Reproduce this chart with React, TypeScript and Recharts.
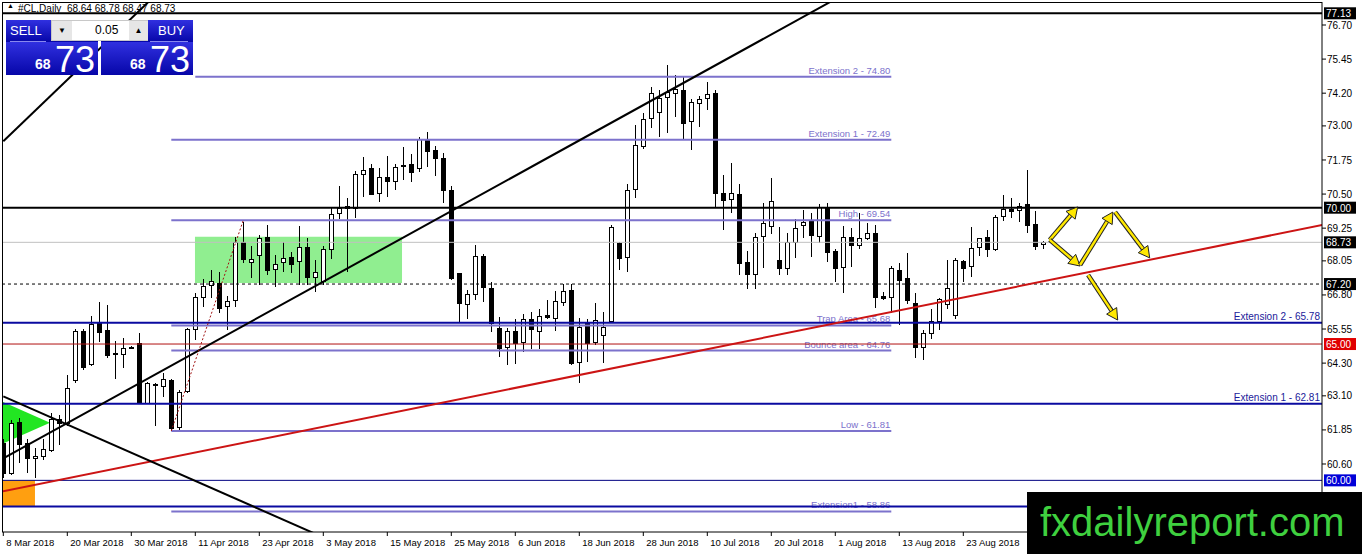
import React from "react";
import { ComposedChart, Bar, XAxis, YAxis, ReferenceLine, ReferenceArea } from "recharts";

// CL daily candles, one per trading day starting 8 Mar 2018 (index = bar number)
const opens = [
  61.37, 60.27, 62.14, 61.37, 60.82, 60.9, 61.12, 62.25, 62.11, 63.68, 65.48, 64.27, 65.77, 65.52, 64.67, 64.64,
  64.86, 65.04, 62.84, 63.55, 63.46, 63.68, 61.96, 63.28, 65.55, 66.72, 67.17, 67.23, 66.4, 66.62, 68.73, 67.99,
  68.27, 68.92, 67.74, 67.99, 68.2, 68.04, 68.56, 67.47, 67.29, 68.48, 69.8, 70.0, 69.98, 71.24, 71.44, 70.53,
  71.12, 70.99, 71.55, 71.6, 71.45, 72.48, 72.12, 71.81, 70.65, 67.59, 66.47, 66.84, 68.23, 67.04, 65.58, 64.9,
  65.47, 65.05, 65.91, 65.49, 66.06, 65.98, 66.55, 66.98, 64.35, 65.82, 65.09, 65.33, 65.86, 68.72, 68.18, 70.67,
  72.24, 73.32, 73.5, 74.05, 74.2, 74.32, 73.18, 73.83, 74.01, 74.2, 70.55, 70.34, 70.5, 68.0, 67.59, 68.96,
  69.33, 68.08, 67.78, 68.72, 69.37, 69.55, 68.96, 69.98, 68.42, 67.84, 68.94, 68.61, 68.87, 69.08, 66.76, 66.71,
  67.72, 67.41, 66.49, 64.9, 65.42, 65.82, 66.47, 66.07, 68.06, 67.84, 68.55, 68.92, 68.51, 69.67, 69.95, 69.92,
  70.14, 69.4, 68.64,
];
const highs = [
  61.5, 62.2, 62.3, 61.5, 61.19, 61.52, 62.47, 62.4, 63.87, 65.55, 65.55, 66.03, 66.54, 66.43, 65.11, 65.22,
  64.92, 65.41, 63.6, 63.57, 63.94, 63.72, 63.3, 65.6, 66.87, 67.39, 67.72, 67.65, 66.75, 68.94, 69.49, 68.59,
  69.0, 69.37, 68.28, 68.73, 68.38, 69.33, 68.89, 68.08, 68.59, 70.0, 70.8, 70.34, 71.36, 71.87, 71.62, 71.45,
  71.9, 71.62, 72.24, 71.96, 72.6, 72.79, 72.26, 72.0, 70.8, 67.62, 66.98, 68.63, 68.3, 67.29, 66.0, 65.58,
  65.91, 66.1, 66.19, 66.28, 66.63, 66.96, 67.2, 67.2, 65.94, 65.9, 66.49, 66.18, 69.36, 68.76, 70.86, 73.03,
  73.47, 74.44, 74.32, 75.23, 74.87, 74.8, 74.0, 74.1, 74.62, 74.3, 71.2, 71.63, 70.87, 68.42, 69.06, 70.16,
  71.08, 69.3, 69.06, 69.58, 69.92, 69.8, 70.14, 70.18, 68.5, 69.33, 69.25, 69.82, 69.44, 69.37, 66.9, 67.85,
  67.98, 68.33, 66.86, 65.5, 66.27, 66.7, 68.08, 68.15, 68.1, 69.28, 68.9, 69.18, 69.75, 70.47, 70.35, 70.19,
  71.38, 69.89, 68.78,
];
const lows = [
  60.1, 60.2, 60.64, 60.27, 60.09, 60.75, 61.05, 61.3, 62.0, 63.57, 64.05, 64.2, 65.08, 64.49, 63.72, 64.12,
  64.82, 62.8, 62.8, 62.0, 63.06, 61.81, 61.85, 63.2, 65.15, 66.36, 66.69, 66.13, 65.52, 66.35, 67.96, 67.41,
  67.17, 67.53, 67.1, 67.65, 67.61, 67.17, 67.17, 66.92, 67.17, 68.11, 69.58, 67.65, 69.62, 70.38, 70.45, 70.22,
  70.4, 70.66, 71.02, 70.96, 71.3, 71.5, 71.15, 70.17, 67.35, 65.82, 65.91, 66.6, 66.54, 65.45, 64.54, 64.23,
  64.25, 64.72, 64.81, 64.81, 65.9, 65.49, 66.4, 64.23, 63.56, 64.35, 64.97, 64.32, 65.8, 67.72, 67.63, 70.37,
  72.15, 72.91, 72.58, 72.73, 73.31, 72.52, 72.12, 72.97, 73.57, 70.03, 69.18, 69.82, 67.53, 67.0, 67.0, 67.78,
  69.05, 67.53, 67.53, 68.14, 68.88, 68.2, 68.7, 68.02, 67.29, 66.88, 67.84, 68.5, 68.8, 66.31, 66.6, 66.13,
  65.7, 66.48, 64.48, 64.42, 65.2, 65.52, 66.3, 65.91, 67.29, 67.47, 68.24, 68.18, 68.4, 69.53, 69.61, 69.49,
  69.08, 68.45, 68.47,
];
const closes = [
  60.27, 62.11, 61.34, 60.82, 60.89, 61.15, 62.25, 62.11, 63.39, 65.48, 64.16, 65.74, 65.44, 64.6, 64.64, 64.86,
  64.88, 62.84, 63.57, 63.5, 63.72, 61.92, 63.24, 65.55, 66.72, 67.13, 67.32, 66.31, 66.59, 68.73, 68.11, 68.11,
  68.88, 67.72, 67.94, 68.14, 67.96, 68.55, 67.47, 67.65, 68.48, 69.76, 69.98, 70.06, 71.24, 71.38, 70.5, 71.12,
  70.96, 71.5, 71.57, 71.32, 72.51, 72.06, 71.81, 70.62, 67.41, 66.49, 66.84, 68.23, 67.08, 65.74, 64.84, 65.49,
  65.03, 65.91, 65.54, 66.03, 65.98, 66.59, 66.96, 64.29, 65.64, 65.05, 65.88, 65.64, 69.3, 68.18, 70.65, 72.3,
  73.24, 74.22, 74.01, 74.23, 74.34, 73.1, 73.87, 73.98, 74.17, 70.55, 70.31, 70.55, 67.96, 67.56, 68.94, 69.43,
  70.26, 67.78, 68.75, 69.25, 69.49, 69.0, 70.04, 68.35, 67.81, 68.94, 68.63, 68.88, 69.06, 66.74, 66.68, 67.78,
  67.37, 66.59, 64.88, 65.42, 65.86, 66.64, 67.04, 68.08, 67.81, 68.51, 68.88, 68.48, 69.67, 69.94, 69.86, 70.07,
  69.37, 68.6, 68.73,
];

// one date label every 8 bars
const dateLabels = [
  "8 Mar 2018", "20 Mar 2018", "30 Mar 2018", "11 Apr 2018", "23 Apr 2018", "3 May 2018", "15 May 2018", "25 May 2018",
  "6 Jun 2018", "18 Jun 2018", "28 Jun 2018", "10 Jul 2018", "20 Jul 2018", "1 Aug 2018", "13 Aug 2018", "23 Aug 2018",
];
const priceTicks = [76.7, 75.45, 74.2, 73.0, 71.75, 70.5, 69.25, 68.05, 66.8, 65.55, 64.3, 63.1, 61.85, 60.6, 59.35];

// horizontal levels marked on the price scale
const markerPrices = [77.13, 70.0, 67.2, 68.73, 65.0, 60.0];

// fibonacci tool levels
const fibNames = ["Extension 2", "Extension 1", "High", "Trap Area", "Bounce area", "Low", "Extension1"];
const fibPrices = [74.8, 72.49, 69.54, 65.68, 64.76, 61.81, 58.86];
const fibStart = [24, 21, 21, 21, 21, 21, 21];
const fibEnd = 111;

// blue extension levels (full width)
const levelNames = ["Extension 2 - 65.78", "Extension 1 - 62.81", ""];
const levelPrices = [65.78, 62.81, 59.04];

// trend lines [x1, y1, x2, y2] in bar index / price
const redTrend = [-1, 59.54, 170, 69.67];
const blackUp = [0, 60.81, 110, 78.62];
const blackDown = [0, 63.08, 40, 57.91];
const blackTopLeft = [0, 72.44, 20, 78.07];
const fibDiagonal = [21, 61.81, 30, 69.54];

// forecast arrows
const arrowPaths = [
  [130.8, 68.82, 134.3, 70.03],
  [130.8, 68.82, 134.6, 67.86],
  [134.6, 67.9, 138.7, 69.84],
  [138.97, 69.84, 143.3, 68.16],
  [135.6, 67.53, 139.3, 65.88],
];

const candles = opens.map((o, i) => ({ i, open: o, high: highs[i], low: lows[i], close: closes[i] }));

const FONT = "'Liberation Sans', Arial, sans-serif";
const FIB = "#7C72CC";
const BLUE = "#0A0AA0";
const X_DOMAIN = [-0.1625, 164.8375];
const Y_DOMAIN = [58.106, 77.544];

const Candle = (props: any) => {
  const { x, y, width, height, payload } = props;
  if (height == null || !payload) return null;
  const { open, high, low, close } = payload;
  const ppu = height / (high - low);
  const yO = y + (high - open) * ppu;
  const yC = y + (high - close) * ppu;
  const cx = Math.round(x + width / 2) + 0.5;
  const top = Math.round(Math.min(yO, yC)) + 0.5;
  const bh = Math.max(Math.round(Math.abs(yO - yC)), 0);
  const up = close >= open;
  return (
    <g shapeRendering="crispEdges">
      <line x1={cx} x2={cx} y1={y} y2={y + height} stroke="#000" strokeWidth={1} />
      <rect x={cx - 2} y={top} width={4} height={bh} fill={up ? "#fff" : "#000"} stroke="#000" strokeWidth={1} />
    </g>
  );
};

const boxColors: Record<string, string> = { "65.00": "#E00000", "60.00": "#0000D8" };
const lineStyles: Record<string, any> = {
  "77.13": { stroke: "#000", strokeWidth: 2 },
  "70.00": { stroke: "#000", strokeWidth: 2 },
  "67.20": { stroke: "#000", strokeWidth: 1, strokeDasharray: "3 3" },
  "68.73": { stroke: "#C0C0C0", strokeWidth: 1 },
  "65.00": { stroke: "#B01010", strokeWidth: 1 },
  "60.00": { stroke: "#000080", strokeWidth: 1 },
};

const MarkerLine = (props: any) => {
  const { x1, y1, x2, label } = props;
  const left = Math.min(x1, x2);
  const right = Math.max(x1, x2);
  const st = lineStyles[label];
  return (
    <g>
      <line x1={left} x2={right} y1={y1} y2={y1} {...st} />
      <rect x={right + 2} y={y1 - 6} width={32} height={12} fill={boxColors[label] || "#000"} />
      <text x={right + 4} y={y1 + 4} fontSize={10} fill="#fff" fontFamily={FONT}>
        {label}
      </text>
    </g>
  );
};

const LevelLine = (props: any) => {
  const { x1, y1, x2, text } = props;
  const left = Math.min(x1, x2);
  const right = Math.max(x1, x2);
  return (
    <g>
      <line x1={left} x2={right} y1={y1} y2={y1} stroke={BLUE} strokeWidth={2} />
      {text ? (
        <text x={right - 2} y={y1 - 3} fontSize={10} fill="#1A1A9A" textAnchor="end" fontFamily={FONT}>
          {text}
        </text>
      ) : null}
    </g>
  );
};

const FibLine = (props: any) => {
  const { x1, y1, x2, text } = props;
  const left = Math.min(x1, x2);
  const right = Math.max(x1, x2);
  return (
    <g>
      <line x1={left} x2={right} y1={y1} y2={y1} stroke={FIB} strokeWidth={2} />
      <text x={right - 1} y={y1 - 3} fontSize={9.5} fill={FIB} textAnchor="end" fontFamily={FONT}>
        {text}
      </text>
    </g>
  );
};

const Arrow = (props: any) => {
  const { x1, y1, x2, y2, clipPath } = props;
  const a = Math.atan2(y2 - y1, x2 - x1);
  const hl = 11;
  const hw = 6;
  const bx = x2 - hl * Math.cos(a);
  const by = y2 - hl * Math.sin(a);
  const nx = -Math.sin(a) * hw;
  const ny = Math.cos(a) * hw;
  const pts = `${x2},${y2} ${bx + nx},${by + ny} ${bx - nx},${by - ny}`;
  return (
    <g clipPath={clipPath}>
      <line x1={x1} y1={y1} x2={bx} y2={by} stroke="#222" strokeWidth={4.5} />
      <line x1={x1} y1={y1} x2={bx} y2={by} stroke="#FFE800" strokeWidth={2.5} />
      <polygon points={pts} fill="#FFE800" stroke="#222" strokeWidth={1} />
    </g>
  );
};

const Triangle = (props: any) => {
  const { x, y, width, height } = props;
  return (
    <polygon
      points={`${x},${y} ${x},${y + height} ${x + width},${y + height / 2}`}
      fill="#22E622"
    />
  );
};

const DateTick = (props: any) => {
  const { x, y, payload } = props;
  return (
    <text x={x + 3} y={y + 8} fontSize={9.5} fill="#000" fontFamily={FONT}>
      {dateLabels[Math.round(payload.value / 8)]}
    </text>
  );
};

const seg = (s: number[]) => [
  { x: s[0], y: s[1] },
  { x: s[2], y: s[3] },
];

function TradePanel() {
  const blue = "linear-gradient(#3030E0, #0606A8)";
  const big: React.CSSProperties = {
    position: "absolute",
    top: 42,
    width: 92,
    height: 33,
    background: blue,
    color: "#fff",
  };
  return (
    <>
      <div style={{ position: "absolute", left: 6, top: 20, width: 92, height: 22, background: blue }} />
      <div style={{ position: "absolute", left: 101, top: 20, width: 92, height: 22, background: blue }} />
      <div style={{ position: "absolute", left: 10, top: 23, color: "#fff", fontSize: 13, fontFamily: FONT }}>SELL</div>
      <div style={{ position: "absolute", left: 10, top: 41, width: 36, height: 1, background: "#8888ee" }} />
      <div style={{ position: "absolute", left: 158, top: 23, color: "#fff", fontSize: 13, fontFamily: FONT }}>BUY</div>
      <div style={{ position: "absolute", left: 150, top: 41, width: 38, height: 1, background: "#8888ee" }} />
      <div
        style={{
          position: "absolute",
          left: 51,
          top: 20,
          width: 97,
          height: 21,
          background: "#fff",
          border: "1px solid #c8c8c8",
          boxSizing: "border-box",
        }}
      />
      <div style={{ position: "absolute", left: 52, top: 21, width: 20, height: 19, background: "#e6e6e6", fontSize: 8, textAlign: "center", lineHeight: "19px" }}>▼</div>
      <div style={{ position: "absolute", left: 129, top: 21, width: 19, height: 19, background: "#e6e6e6", fontSize: 8, textAlign: "center", lineHeight: "19px" }}>▲</div>
      <div style={{ position: "absolute", left: 95, top: 23, fontSize: 12, fontFamily: FONT, color: "#000" }}>0.05</div>
      <div style={{ ...big, left: 6 }}>
        <span style={{ position: "absolute", left: 29, top: 14, fontSize: 14, fontWeight: 700, fontFamily: FONT }}>68</span>
        <span style={{ position: "absolute", left: 49, top: -3, fontSize: 36, fontFamily: FONT }}>73</span>
      </div>
      <div style={{ ...big, left: 101 }}>
        <span style={{ position: "absolute", left: 29, top: 14, fontSize: 14, fontWeight: 700, fontFamily: FONT }}>68</span>
        <span style={{ position: "absolute", left: 49, top: -3, fontSize: 36, fontFamily: FONT }}>73</span>
      </div>
    </>
  );
}

export default function App() {
  return (
    <div
      style={{
        position: "absolute",
        left: 0,
        top: 0,
        width: 1362,
        height: 554,
        background: "#fff",
        overflow: "hidden",
        fontFamily: FONT,
      }}
    >
      <ComposedChart
        width={1362}
        height={554}
        data={candles}
        margin={{ top: 2, right: 0, bottom: 0, left: 2 }}
      >
        <XAxis
          dataKey="i"
          type="number"
          domain={X_DOMAIN}
          allowDataOverflow
          ticks={dateLabels.map((_, k) => k * 8)}
          interval={0}
          height={22}
          tickSize={4}
          tickMargin={2}
          axisLine={{ stroke: "#000" }}
          tickLine={{ stroke: "#000" }}
          tick={<DateTick />}
        />
        <YAxis
          orientation="right"
          type="number"
          domain={Y_DOMAIN}
          allowDataOverflow
          ticks={priceTicks}
          interval={0}
          width={40}
          tickSize={4}
          tickMargin={1}
          axisLine={{ stroke: "#000" }}
          tickLine={{ stroke: "#000" }}
          tick={{ fontSize: 10, fill: "#000", fontFamily: FONT }}
          tickFormatter={(v: number) => v.toFixed(2)}
        />

        <ReferenceArea x1={23.96} x2={49.84} y1={67.24} y2={68.93} fill="#90EE90" fillOpacity={1} stroke="none" ifOverflow="hidden" />
        <ReferenceArea x1={X_DOMAIN[0]} x2={3.96} y1={59.06} y2={60.0} fill="#FF9F10" fillOpacity={1} stroke="none" ifOverflow="hidden" />
        <ReferenceArea x1={X_DOMAIN[0]} x2={5.84} y1={61.33} y2={62.89} ifOverflow="hidden" shape={(p: any) => <Triangle {...p} />} />

        {fibPrices.map((p, k) => (
          <ReferenceLine
            key={"fib" + k}
            segment={[{ x: fibStart[k], y: p }, { x: fibEnd, y: p }]}
            shape={(sp: any) => <FibLine {...sp} text={`${fibNames[k]} - ${p.toFixed(2)}`} />}
          />
        ))}
        {levelPrices.map((p, k) => (
          <ReferenceLine key={"lvl" + k} y={p} shape={(sp: any) => <LevelLine {...sp} text={levelNames[k]} />} />
        ))}
        {markerPrices.map((p) => (
          <ReferenceLine key={"mk" + p} y={p} shape={(sp: any) => <MarkerLine {...sp} label={p.toFixed(2)} />} />
        ))}

        <ReferenceLine segment={seg(redTrend)} stroke="#CC1414" strokeWidth={2} ifOverflow="hidden" />
        <ReferenceLine segment={seg(blackUp)} stroke="#000" strokeWidth={2} ifOverflow="hidden" />
        <ReferenceLine segment={seg(blackDown)} stroke="#000" strokeWidth={2} ifOverflow="hidden" />
        <ReferenceLine segment={seg(blackTopLeft)} stroke="#000" strokeWidth={2} ifOverflow="hidden" />
        <ReferenceLine segment={seg(fibDiagonal)} stroke="#A01010" strokeWidth={1} strokeDasharray="2 2" ifOverflow="hidden" />

        <Bar
          dataKey={(d: any) => [d.low, d.high]}
          barSize={6}
          isAnimationActive={false}
          shape={(p: any) => <Candle {...p} />}
        />

        {arrowPaths.map((a, k) => (
          <ReferenceLine key={"ar" + k} segment={seg(a)} ifOverflow="hidden" shape={(sp: any) => <Arrow {...sp} />} />
        ))}
      </ComposedChart>

      {/* plot frame */}
      <div
        style={{
          position: "absolute",
          left: 2,
          top: 2,
          width: 1320,
          height: 530,
          borderLeft: "1px solid #000",
          borderTop: "1px solid #000",
          boxSizing: "border-box",
          pointerEvents: "none",
        }}
      />

      {/* symbol title */}
      <div style={{ position: "absolute", left: 7, top: 2, fontSize: 7, color: "#000" }}>▲</div>
      <div style={{ position: "absolute", left: 18, top: 3, fontSize: 10, color: "#000", fontFamily: FONT, whiteSpace: "pre" }}>
        #CL,Daily  68.64 68.78 68.47 68.73
      </div>

      <TradePanel />

      {/* watermark */}
      <div
        style={{
          position: "absolute",
          left: 1027,
          top: 492,
          width: 335,
          height: 62,
          background: "#000",
          color: "#3FD03F",
          fontSize: 40,
          fontFamily: FONT,
          lineHeight: "60px",
          paddingLeft: 13,
          boxSizing: "border-box",
        }}
      >
        fxdailyreport.com
      </div>
    </div>
  );
}
